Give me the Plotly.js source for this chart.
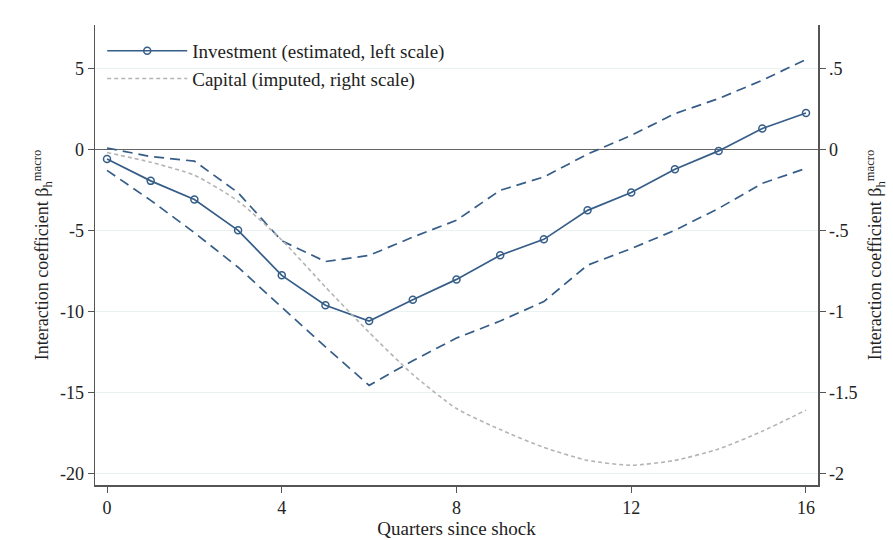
<!DOCTYPE html>
<html>
<head>
<meta charset="utf-8">
<script src="https://cdn.plot.ly/plotly-3.0.1.min.js"></script>
<style>
  html, body { margin: 0; padding: 0; background: #fff; }
  #plot { width: 893px; height: 540px; }
</style>
</head>
<body>
<div id="plot"></div>
<script>
// quarters since shock
const quarters = [0, 1, 2, 3, 4, 5, 6, 7, 8, 9, 10, 11, 12, 13, 14, 15, 16];

// investment point estimate and bands (left scale)
const investment = [-0.6, -1.95, -3.1, -5.0, -7.78, -9.63, -10.6, -9.28, -8.03, -6.54, -5.56, -3.77, -2.67, -1.23, -0.1, 1.28, 2.24];
const upperBand = [0.08, -0.45, -0.73, -2.68, -5.65, -6.93, -6.55, -5.42, -4.38, -2.53, -1.71, -0.3, 0.86, 2.2, 3.13, 4.26, 5.54];
const lowerBand = [-1.3, -3.15, -5.15, -7.28, -9.75, -12.2, -14.57, -13.05, -11.65, -10.6, -9.4, -7.15, -6.13, -5.0, -3.65, -2.1, -1.18];

// imputed capital (right scale)
const capital = [-0.02, -0.08, -0.16, -0.32, -0.56, -0.85, -1.13, -1.39, -1.6, -1.73, -1.84, -1.92, -1.95, -1.92, -1.85, -1.74, -1.61];

const xTicks = [0, 4, 8, 12, 16];
const leftTicks = [-20, -15, -10, -5, 0, 5];
const leftTickText = ['-20', '-15', '-10', '-5', '0', '5'];
const rightTicks = [-2, -1.5, -1, -0.5, 0, 0.5];
const rightTickText = ['-2', '-1.5', '-1', '-.5', '0', '.5'];

const NAVY = '#355d88';
const INK = '#222';
const FONT = 'Liberation Serif, Times New Roman, serif';
const yTitle = 'Interaction coefficient β<sub>h</sub><sup>macro</sup>';

const data = [
  {
    x: quarters, y: upperBand, mode: 'lines', showlegend: false, hoverinfo: 'skip',
    line: { color: NAVY, width: 1.7, dash: '10px,6px' }
  },
  {
    x: quarters, y: lowerBand, mode: 'lines', showlegend: false, hoverinfo: 'skip',
    line: { color: NAVY, width: 1.7, dash: '10px,6px' }
  },
  {
    x: quarters, y: investment, mode: 'lines+markers', name: 'Investment (estimated, left scale)',
    line: { color: NAVY, width: 1.7 },
    marker: { symbol: 'circle-open', size: 7, color: NAVY, line: { width: 1.5 } }
  },
  {
    x: quarters, y: capital, yaxis: 'y2', mode: 'lines', name: 'Capital (imputed, right scale)',
    line: { color: '#b4b4b4', width: 1.6, dash: '4px,3px', shape: 'spline', smoothing: 0.6 }
  }
];

const layout = {
  width: 893, height: 540,
  margin: { l: 95, r: 75, t: 25, b: 55 },
  paper_bgcolor: '#ffffff',
  plot_bgcolor: '#ffffff',
  font: { family: FONT, size: 18, color: INK },
  showlegend: true,
  legend: {
    x: 0.01, y: 0.985, xanchor: 'left', yanchor: 'top',
    bgcolor: 'rgba(0,0,0,0)', font: { family: FONT, size: 19, color: INK },
    tracegroupgap: 0, itemwidth: 80
  },
  xaxis: {
    range: [-0.275, 16.275],
    tickmode: 'array', tickvals: xTicks,
    showgrid: false, zeroline: false,
    showline: true, linecolor: '#555', linewidth: 1.5,
    ticks: 'outside', ticklen: 6, tickcolor: '#555',
    tickfont: { family: FONT, size: 18, color: INK },
    title: { text: 'Quarters since shock', standoff: 2, font: { family: FONT, size: 19, color: INK } }
  },
  yaxis: {
    range: [-20.72, 7.67],
    tickmode: 'array', tickvals: leftTicks, ticktext: leftTickText,
    showgrid: true, gridcolor: '#e9f1f1', gridwidth: 1,
    zeroline: true, zerolinecolor: '#666', zerolinewidth: 1.5,
    showline: true, linecolor: '#555', linewidth: 1.5,
    ticks: 'outside', ticklen: 6, tickcolor: '#555',
    tickfont: { family: FONT, size: 18, color: INK },
    title: { text: yTitle, standoff: 6, font: { family: FONT, size: 18, color: INK } }
  },
  yaxis2: {
    overlaying: 'y', side: 'right',
    range: [-2.072, 0.767],
    tickmode: 'array', tickvals: rightTicks, ticktext: rightTickText,
    showgrid: false, zeroline: false,
    showline: true, linecolor: '#555', linewidth: 1.5,
    ticks: 'outside', ticklen: 6, tickcolor: '#555',
    tickfont: { family: FONT, size: 18, color: INK },
    title: { text: yTitle, standoff: 12, font: { family: FONT, size: 18, color: INK } }
  }
};

Plotly.newPlot('plot', data, layout, { displayModeBar: false, staticPlot: true });
</script>
</body>
</html>
